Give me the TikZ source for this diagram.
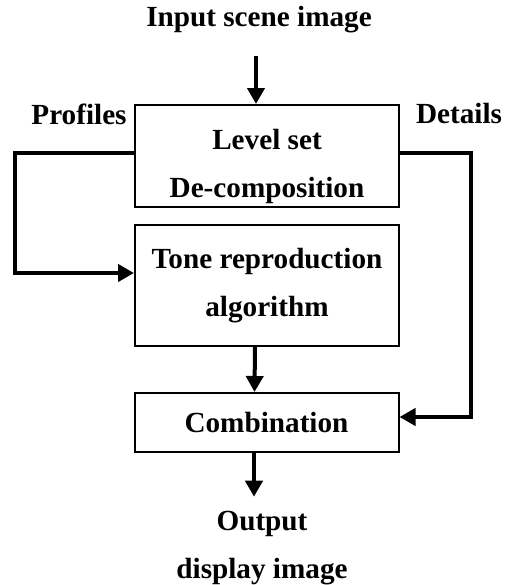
\documentclass[tikz,border=0pt]{standalone}
\usepackage{fontspec}
\setmainfont{Liberation Serif}
\usetikzlibrary{arrows.meta}
\tikzset{
  procbox/.style={draw, line width=1pt, minimum width=132pt, align=center, inner sep=0pt},
  flowtext/.style={inner sep=0pt, align=center},
  flow/.style={line width=2pt, -{Triangle[width=8.5pt, length=8pt]}},
  plain/.style={line width=2pt}
}
\begin{document}
\begin{tikzpicture}[x=0.5pt, y=-0.5pt, font=\fontsize{14.6}{24}\selectfont\bfseries]
  \useasboundingbox (0,0) rectangle (510,585);
  % Text and boxes
  \node[flowtext] (input) at (259,20) {Input scene image};
  \node[procbox, minimum height=51pt, text height=45pt] (decomp) at (267,156) {Level set\\De-composition};
  \node[procbox, minimum height=60.5pt] (tone) at (267,285.5) {Tone reproduction\\algorithm};
  \node[procbox, minimum height=29.5pt] (combine) at (266.5,422.5) {Combination};
  \node[flowtext] (output) at (262,548) {Output\\display image};
  \node[flowtext] (profiles) at (79,114) {Profiles};
  \node[flowtext] (details) at (459,114) {Details};

  % Connectors
  \draw[flow, shorten <=11pt] ([xshift=-1.5pt]input.south) -- ([xshift=-1.5pt]input.south |- decomp.north);
  \draw[flow] ([yshift=1.5pt]decomp.west) -| (15,273) -- ([yshift=6.25pt]tone.west);
  \draw[flow] ([yshift=1.5pt]decomp.east) -| (471,417) -- ([yshift=2.75pt]combine.east);
  \draw[flow] ([xshift=-6pt]tone.south) -- ([xshift=-6pt]combine.north);
  \draw[flow, shorten >=7pt] ([xshift=-6.25pt]combine.south) -- ([xshift=-6.25pt]combine.south |- output.north);
\end{tikzpicture}
\end{document}
